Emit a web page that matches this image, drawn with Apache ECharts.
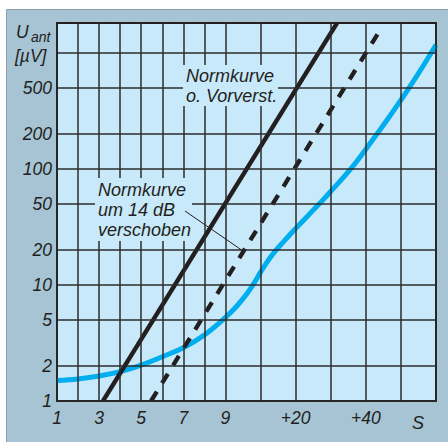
<!DOCTYPE html>
<html><head><meta charset="utf-8">
<script src="https://cdn.jsdelivr.net/npm/echarts@6/dist/echarts.min.js"></script>
<style>html,body{margin:0;padding:0;background:#fff}#c{width:448px;height:442px}</style>
</head><body><div id="c"></div>
<script>
// x values: dB above S1 (S-unit = 6 dB)
const xGridValues = [0,6,12,18,24,30,36,42,48,58,68,78,88,98,108];
const xLabelValues = [0,12,24,36,48,68,88];
const xLabelTexts = ['1','3','5','7','9','+20','+40'];
const yGridValues = [1,2,5,10,20,50,100,200,500,1000];
const yLabelValues = [1,2,5,10,20,50,100,200,500];
const normX = [13.1, 79.8];
const normY = [1, 1815];
const shiftX = [26.8, 91.9];
const shiftY = [1, 1550];
const measX = [0,6,12,18,24,30,36,42,48,51,54,56,58,60,62,64,67,70,73,76,79,82,85,88,91,94,97,100,103,106,108];
const measY = [1.50,1.55,1.64,1.79,2.04,2.41,2.88,3.71,5.25,6.46,8.32,10.2,12.9,16.0,19.3,22.6,28.5,35.5,44.2,55.0,69.2,87.1,112,148,197,263,355,484,668,933,1175];

const ink = '#231f20';
const font = 'Liberation Sans';
const zip = (a,b) => a.map((v,i)=>[v,b[i]]);

const gridLines = xGridValues.map(v=>({xAxis:v})).concat(yGridValues.map(v=>({yAxis:v})));

const chart = echarts.init(document.getElementById('c'), null, {renderer:'svg'});
chart.setOption({
  animation:false,
  backgroundColor:'#ffffff',
  grid:{left:57,right:12,top:23,bottom:41,show:true,backgroundColor:'#c8e9f9',borderColor:ink,borderWidth:2},
  xAxis:{type:'value',min:0,max:108,
    axisLine:{show:false},
    axisTick:{show:false},
    splitLine:{show:false},
    axisLabel:{customValues:xLabelValues,margin:8,color:ink,fontFamily:font,fontStyle:'italic',fontSize:17.5,
      formatter:v=>xLabelTexts[xLabelValues.indexOf(v)]}
  },
  yAxis:{type:'log',logBase:10,min:1,max:1815,
    axisLine:{show:false},
    axisTick:{show:false},
    splitLine:{show:false},
    axisLabel:{customValues:yLabelValues,margin:5,color:ink,fontFamily:font,fontStyle:'italic',fontSize:17.5,
      formatter:v=>String(v)}
  },
  series:[
    {type:'line',data:[],z:1,silent:true,
      markLine:{silent:true,symbol:['none','none'],label:{show:false},animation:false,
        lineStyle:{color:'#2b2b2b',width:1.5,type:'solid'},emphasis:{disabled:true},data:gridLines}},
    {type:'line',data:zip(measX,measY),smooth:0.4,symbol:'none',clip:true,z:3,
      lineStyle:{color:'#00aeef',width:5}},
    {type:'line',data:zip(shiftX,shiftY),symbol:'none',clip:true,z:3,
      lineStyle:{color:ink,width:4.3,type:[11,10],cap:'butt'}},
    {type:'line',data:zip(normX,normY),symbol:'none',clip:true,z:3,
      lineStyle:{color:ink,width:4.3}}
  ],
  graphic:[
    {type:'rect', z:-10, shape:{x:6.5,y:9.5,width:445,height:440}, style:{fill:'#a6c4d4', stroke:'#8e9ea8', lineWidth:1}},
    {type:'text', z:10, left:16, top:23, style:{text:'U', fontFamily:font, fontStyle:'italic', fontSize:17.5, fill:ink}},
    {type:'text', z:10, left:31, top:30, style:{text:'ant', fontFamily:font, fontStyle:'italic', fontSize:14, fill:ink}},
    {type:'text', z:10, left:15, top:47, style:{text:'[µV]', fontFamily:font, fontStyle:'italic', fontSize:17.5, fill:ink}},
    {type:'text', z:10, left:412, top:414, style:{text:'S', fontFamily:font, fontStyle:'italic', fontSize:18, fill:ink}},
    {type:'rect', z:10, shape:{x:183,y:65,width:95,height:41}, style:{fill:'#c8e9f9'}},
    {type:'text', z:11, left:186, top:66, style:{text:'Normkurve\no. Vorverst.', fontFamily:font, fontStyle:'italic', fontSize:18, lineHeight:20, fill:ink}},
    {type:'rect', z:10, shape:{x:95,y:178,width:97,height:63}, style:{fill:'#c8e9f9'}},
    {type:'text', z:11, left:98, top:180, style:{text:'Normkurve\num 14 dB\nverschoben', fontFamily:font, fontStyle:'italic', fontSize:18, lineHeight:20, fill:ink}},
    {type:'line', z:11, shape:{x1:185,y1:211,x2:243,y2:251}, style:{stroke:ink,lineWidth:1}}
  ]
});
</script></body></html>
